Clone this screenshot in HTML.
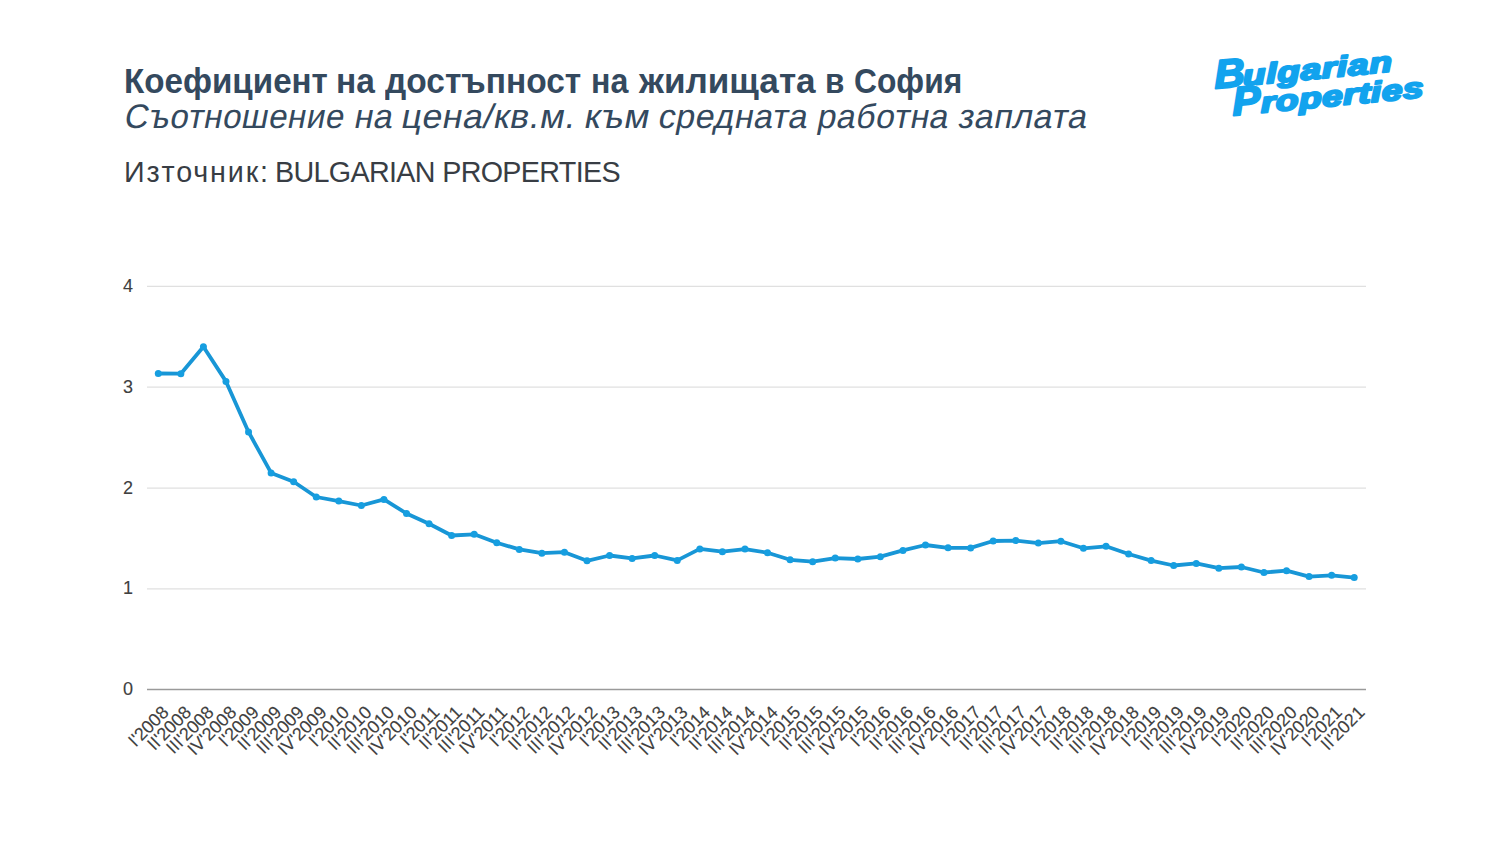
<!DOCTYPE html>
<html><head><meta charset="utf-8">
<style>
html,body{margin:0;padding:0;background:#fff;}
body{width:1500px;height:844px;position:relative;overflow:hidden;font-family:"Liberation Sans",sans-serif;}
.t{position:absolute;left:124px;white-space:nowrap;color:#34495e;}
.w1{position:absolute;top:62.5px;font-size:33.5px;font-weight:bold;white-space:nowrap;color:#34495e;transform-origin:0 30.3px;}
.w2{position:absolute;top:97px;font-size:34px;letter-spacing:0.55px;white-space:nowrap;color:#34495e;transform-origin:0 80%;}
#t3{top:155px;font-size:28.7px;color:#383d44;transform:scaleY(1.05);transform-origin:0 0;}
svg{position:absolute;left:0;top:0;}
.yl{font-size:18px;fill:#404040;stroke:#404040;stroke-width:0.12px;}
.xl{font-size:18px;fill:#404040;stroke:#404040;stroke-width:0.12px;}

</style></head><body>
<span class="w1" style="left:124.02px;transform:scaleY(1.06) scaleX(0.9901)">Коефициент</span><span class="w1" style="left:336.00px;transform:scaleY(1.06) scaleX(1.0000)">на</span><span class="w1" style="left:385.00px;transform:scaleY(1.06) scaleX(1.0000)">достъпност</span><span class="w1" style="left:590.58px;transform:scaleY(1.06) scaleX(0.9595)">на</span><span class="w1" style="left:639.00px;transform:scaleY(1.06) scaleX(1.0476)">жилищата</span><span class="w1" style="left:825.12px;transform:scaleY(1.06) scaleX(0.9412)">в</span><span class="w1" style="left:853.55px;transform:scaleY(1.06) scaleX(0.9482)">София</span>
<span class="w2" style="left:123.08px;transform:skewX(-11deg) scaleX(0.9731)">Съотношение</span><span class="w2" style="left:353.00px;transform:skewX(-11deg) scaleX(1.0000)">на</span><span class="w2" style="left:399.90px;transform:skewX(-11deg) scaleX(1.0500)">цена/кв.м.</span><span class="w2" style="left:583.36px;transform:skewX(-11deg) scaleX(1.0678)">към</span><span class="w2" style="left:657.00px;transform:skewX(-11deg) scaleX(1.0000)">средната</span><span class="w2" style="left:816.31px;transform:skewX(-11deg) scaleX(0.9901)">работна</span><span class="w2" style="left:957.00px;transform:skewX(-11deg) scaleX(1.0000)">заплата</span>
<div class="t" id="t3"><span style="letter-spacing:1.85px">Източник:</span><span style="position:absolute;left:151px;top:0;letter-spacing:-0.66px">BULGARIAN PROPERTIES</span></div>
<svg width="1500" height="844" viewBox="0 0 1500 844" style="font-family:'Liberation Sans',sans-serif">
<line x1="147.0" y1="286.3" x2="1366" y2="286.3" stroke="#e0e0e0" stroke-width="1.3"/>
<text x="133" y="291.8" text-anchor="end" class="yl">4</text>
<line x1="147.0" y1="387.2" x2="1366" y2="387.2" stroke="#e0e0e0" stroke-width="1.3"/>
<text x="133" y="392.7" text-anchor="end" class="yl">3</text>
<line x1="147.0" y1="488.2" x2="1366" y2="488.2" stroke="#e0e0e0" stroke-width="1.3"/>
<text x="133" y="493.7" text-anchor="end" class="yl">2</text>
<line x1="147.0" y1="588.8" x2="1366" y2="588.8" stroke="#e0e0e0" stroke-width="1.3"/>
<text x="133" y="594.3" text-anchor="end" class="yl">1</text>
<line x1="147.0" y1="689.5" x2="1366" y2="689.5" stroke="#9a9a9a" stroke-width="1.3"/>
<text x="133" y="695.0" text-anchor="end" class="yl">0</text>
<polyline points="158.28,373.50 180.85,373.70 203.41,346.70 225.98,381.40 248.54,431.90 271.11,472.90 293.67,481.70 316.24,497.00 338.80,501.10 361.37,505.50 383.93,499.40 406.50,513.50 429.06,523.70 451.62,535.50 474.19,534.30 496.75,542.80 519.32,549.40 541.88,553.20 564.45,552.20 587.01,560.80 609.58,555.50 632.14,558.40 654.71,555.50 677.27,560.40 699.84,548.90 722.40,551.70 744.97,549.10 767.53,552.70 790.10,559.80 812.66,561.70 835.23,558.10 857.79,559.00 880.36,556.70 902.92,550.40 925.49,545.00 948.05,547.80 970.62,547.90 993.18,541.00 1015.75,540.60 1038.31,543.10 1060.88,541.20 1083.44,548.30 1106.00,546.30 1128.57,554.00 1151.13,560.60 1173.70,565.50 1196.26,563.40 1218.83,568.20 1241.39,567.00 1263.96,572.50 1286.52,570.70 1309.09,576.60 1331.65,575.30 1354.22,577.60" fill="none" stroke="#1896d6" stroke-width="3.8" stroke-linejoin="round"/>
<circle cx="158.28" cy="373.50" r="3.5" fill="#169ee0"/>
<circle cx="180.85" cy="373.70" r="3.5" fill="#169ee0"/>
<circle cx="203.41" cy="346.70" r="3.5" fill="#169ee0"/>
<circle cx="225.98" cy="381.40" r="3.5" fill="#169ee0"/>
<circle cx="248.54" cy="431.90" r="3.5" fill="#169ee0"/>
<circle cx="271.11" cy="472.90" r="3.5" fill="#169ee0"/>
<circle cx="293.67" cy="481.70" r="3.5" fill="#169ee0"/>
<circle cx="316.24" cy="497.00" r="3.5" fill="#169ee0"/>
<circle cx="338.80" cy="501.10" r="3.5" fill="#169ee0"/>
<circle cx="361.37" cy="505.50" r="3.5" fill="#169ee0"/>
<circle cx="383.93" cy="499.40" r="3.5" fill="#169ee0"/>
<circle cx="406.50" cy="513.50" r="3.5" fill="#169ee0"/>
<circle cx="429.06" cy="523.70" r="3.5" fill="#169ee0"/>
<circle cx="451.62" cy="535.50" r="3.5" fill="#169ee0"/>
<circle cx="474.19" cy="534.30" r="3.5" fill="#169ee0"/>
<circle cx="496.75" cy="542.80" r="3.5" fill="#169ee0"/>
<circle cx="519.32" cy="549.40" r="3.5" fill="#169ee0"/>
<circle cx="541.88" cy="553.20" r="3.5" fill="#169ee0"/>
<circle cx="564.45" cy="552.20" r="3.5" fill="#169ee0"/>
<circle cx="587.01" cy="560.80" r="3.5" fill="#169ee0"/>
<circle cx="609.58" cy="555.50" r="3.5" fill="#169ee0"/>
<circle cx="632.14" cy="558.40" r="3.5" fill="#169ee0"/>
<circle cx="654.71" cy="555.50" r="3.5" fill="#169ee0"/>
<circle cx="677.27" cy="560.40" r="3.5" fill="#169ee0"/>
<circle cx="699.84" cy="548.90" r="3.5" fill="#169ee0"/>
<circle cx="722.40" cy="551.70" r="3.5" fill="#169ee0"/>
<circle cx="744.97" cy="549.10" r="3.5" fill="#169ee0"/>
<circle cx="767.53" cy="552.70" r="3.5" fill="#169ee0"/>
<circle cx="790.10" cy="559.80" r="3.5" fill="#169ee0"/>
<circle cx="812.66" cy="561.70" r="3.5" fill="#169ee0"/>
<circle cx="835.23" cy="558.10" r="3.5" fill="#169ee0"/>
<circle cx="857.79" cy="559.00" r="3.5" fill="#169ee0"/>
<circle cx="880.36" cy="556.70" r="3.5" fill="#169ee0"/>
<circle cx="902.92" cy="550.40" r="3.5" fill="#169ee0"/>
<circle cx="925.49" cy="545.00" r="3.5" fill="#169ee0"/>
<circle cx="948.05" cy="547.80" r="3.5" fill="#169ee0"/>
<circle cx="970.62" cy="547.90" r="3.5" fill="#169ee0"/>
<circle cx="993.18" cy="541.00" r="3.5" fill="#169ee0"/>
<circle cx="1015.75" cy="540.60" r="3.5" fill="#169ee0"/>
<circle cx="1038.31" cy="543.10" r="3.5" fill="#169ee0"/>
<circle cx="1060.88" cy="541.20" r="3.5" fill="#169ee0"/>
<circle cx="1083.44" cy="548.30" r="3.5" fill="#169ee0"/>
<circle cx="1106.00" cy="546.30" r="3.5" fill="#169ee0"/>
<circle cx="1128.57" cy="554.00" r="3.5" fill="#169ee0"/>
<circle cx="1151.13" cy="560.60" r="3.5" fill="#169ee0"/>
<circle cx="1173.70" cy="565.50" r="3.5" fill="#169ee0"/>
<circle cx="1196.26" cy="563.40" r="3.5" fill="#169ee0"/>
<circle cx="1218.83" cy="568.20" r="3.5" fill="#169ee0"/>
<circle cx="1241.39" cy="567.00" r="3.5" fill="#169ee0"/>
<circle cx="1263.96" cy="572.50" r="3.5" fill="#169ee0"/>
<circle cx="1286.52" cy="570.70" r="3.5" fill="#169ee0"/>
<circle cx="1309.09" cy="576.60" r="3.5" fill="#169ee0"/>
<circle cx="1331.65" cy="575.30" r="3.5" fill="#169ee0"/>
<circle cx="1354.22" cy="577.60" r="3.5" fill="#169ee0"/>
<text x="169.78" y="713.50" text-anchor="end" transform="rotate(-45 169.78 713.50)" class="xl">I'2008</text>
<text x="192.35" y="713.50" text-anchor="end" transform="rotate(-45 192.35 713.50)" class="xl">II'2008</text>
<text x="214.91" y="713.50" text-anchor="end" transform="rotate(-45 214.91 713.50)" class="xl">III'2008</text>
<text x="237.48" y="713.50" text-anchor="end" transform="rotate(-45 237.48 713.50)" class="xl">IV'2008</text>
<text x="260.04" y="713.50" text-anchor="end" transform="rotate(-45 260.04 713.50)" class="xl">I'2009</text>
<text x="282.61" y="713.50" text-anchor="end" transform="rotate(-45 282.61 713.50)" class="xl">II'2009</text>
<text x="305.17" y="713.50" text-anchor="end" transform="rotate(-45 305.17 713.50)" class="xl">III'2009</text>
<text x="327.74" y="713.50" text-anchor="end" transform="rotate(-45 327.74 713.50)" class="xl">IV'2009</text>
<text x="350.30" y="713.50" text-anchor="end" transform="rotate(-45 350.30 713.50)" class="xl">I'2010</text>
<text x="372.87" y="713.50" text-anchor="end" transform="rotate(-45 372.87 713.50)" class="xl">II'2010</text>
<text x="395.43" y="713.50" text-anchor="end" transform="rotate(-45 395.43 713.50)" class="xl">III'2010</text>
<text x="418.00" y="713.50" text-anchor="end" transform="rotate(-45 418.00 713.50)" class="xl">IV'2010</text>
<text x="440.56" y="713.50" text-anchor="end" transform="rotate(-45 440.56 713.50)" class="xl">I'2011</text>
<text x="463.12" y="713.50" text-anchor="end" transform="rotate(-45 463.12 713.50)" class="xl">II'2011</text>
<text x="485.69" y="713.50" text-anchor="end" transform="rotate(-45 485.69 713.50)" class="xl">III'2011</text>
<text x="508.25" y="713.50" text-anchor="end" transform="rotate(-45 508.25 713.50)" class="xl">IV'2011</text>
<text x="530.82" y="713.50" text-anchor="end" transform="rotate(-45 530.82 713.50)" class="xl">I'2012</text>
<text x="553.38" y="713.50" text-anchor="end" transform="rotate(-45 553.38 713.50)" class="xl">II'2012</text>
<text x="575.95" y="713.50" text-anchor="end" transform="rotate(-45 575.95 713.50)" class="xl">III'2012</text>
<text x="598.51" y="713.50" text-anchor="end" transform="rotate(-45 598.51 713.50)" class="xl">IV'2012</text>
<text x="621.08" y="713.50" text-anchor="end" transform="rotate(-45 621.08 713.50)" class="xl">I'2013</text>
<text x="643.64" y="713.50" text-anchor="end" transform="rotate(-45 643.64 713.50)" class="xl">II'2013</text>
<text x="666.21" y="713.50" text-anchor="end" transform="rotate(-45 666.21 713.50)" class="xl">III'2013</text>
<text x="688.77" y="713.50" text-anchor="end" transform="rotate(-45 688.77 713.50)" class="xl">IV'2013</text>
<text x="711.34" y="713.50" text-anchor="end" transform="rotate(-45 711.34 713.50)" class="xl">I'2014</text>
<text x="733.90" y="713.50" text-anchor="end" transform="rotate(-45 733.90 713.50)" class="xl">II'2014</text>
<text x="756.47" y="713.50" text-anchor="end" transform="rotate(-45 756.47 713.50)" class="xl">III'2014</text>
<text x="779.03" y="713.50" text-anchor="end" transform="rotate(-45 779.03 713.50)" class="xl">IV'2014</text>
<text x="801.60" y="713.50" text-anchor="end" transform="rotate(-45 801.60 713.50)" class="xl">I'2015</text>
<text x="824.16" y="713.50" text-anchor="end" transform="rotate(-45 824.16 713.50)" class="xl">II'2015</text>
<text x="846.73" y="713.50" text-anchor="end" transform="rotate(-45 846.73 713.50)" class="xl">III'2015</text>
<text x="869.29" y="713.50" text-anchor="end" transform="rotate(-45 869.29 713.50)" class="xl">IV'2015</text>
<text x="891.86" y="713.50" text-anchor="end" transform="rotate(-45 891.86 713.50)" class="xl">I'2016</text>
<text x="914.42" y="713.50" text-anchor="end" transform="rotate(-45 914.42 713.50)" class="xl">II'2016</text>
<text x="936.99" y="713.50" text-anchor="end" transform="rotate(-45 936.99 713.50)" class="xl">III'2016</text>
<text x="959.55" y="713.50" text-anchor="end" transform="rotate(-45 959.55 713.50)" class="xl">IV'2016</text>
<text x="982.12" y="713.50" text-anchor="end" transform="rotate(-45 982.12 713.50)" class="xl">I'2017</text>
<text x="1004.68" y="713.50" text-anchor="end" transform="rotate(-45 1004.68 713.50)" class="xl">II'2017</text>
<text x="1027.25" y="713.50" text-anchor="end" transform="rotate(-45 1027.25 713.50)" class="xl">III'2017</text>
<text x="1049.81" y="713.50" text-anchor="end" transform="rotate(-45 1049.81 713.50)" class="xl">IV'2017</text>
<text x="1072.38" y="713.50" text-anchor="end" transform="rotate(-45 1072.38 713.50)" class="xl">I'2018</text>
<text x="1094.94" y="713.50" text-anchor="end" transform="rotate(-45 1094.94 713.50)" class="xl">II'2018</text>
<text x="1117.50" y="713.50" text-anchor="end" transform="rotate(-45 1117.50 713.50)" class="xl">III'2018</text>
<text x="1140.07" y="713.50" text-anchor="end" transform="rotate(-45 1140.07 713.50)" class="xl">IV'2018</text>
<text x="1162.63" y="713.50" text-anchor="end" transform="rotate(-45 1162.63 713.50)" class="xl">I'2019</text>
<text x="1185.20" y="713.50" text-anchor="end" transform="rotate(-45 1185.20 713.50)" class="xl">II'2019</text>
<text x="1207.76" y="713.50" text-anchor="end" transform="rotate(-45 1207.76 713.50)" class="xl">III'2019</text>
<text x="1230.33" y="713.50" text-anchor="end" transform="rotate(-45 1230.33 713.50)" class="xl">IV'2019</text>
<text x="1252.89" y="713.50" text-anchor="end" transform="rotate(-45 1252.89 713.50)" class="xl">I'2020</text>
<text x="1275.46" y="713.50" text-anchor="end" transform="rotate(-45 1275.46 713.50)" class="xl">II'2020</text>
<text x="1298.02" y="713.50" text-anchor="end" transform="rotate(-45 1298.02 713.50)" class="xl">III'2020</text>
<text x="1320.59" y="713.50" text-anchor="end" transform="rotate(-45 1320.59 713.50)" class="xl">IV'2020</text>
<text x="1343.15" y="713.50" text-anchor="end" transform="rotate(-45 1343.15 713.50)" class="xl">I'2021</text>
<text x="1365.72" y="713.50" text-anchor="end" transform="rotate(-45 1365.72 713.50)" class="xl">II'2021</text>
</svg>
<svg id="logo" width="1500" height="844" viewBox="0 0 1500 844" style="position:absolute;left:0;top:0">
<g fill="#12a3ee" stroke="#12a3ee" stroke-width="2.2" stroke-linejoin="round" font-family="Liberation Sans" font-weight="bold" font-style="italic">
<g transform="translate(1215,88.5) rotate(-5.5) skewX(-3)">
<text transform="scale(1.05,1)" font-size="40">B</text>
<text transform="translate(28.5,0) scale(1.3,1)" font-size="28.5" letter-spacing="0.6">ulgarian</text>
</g>
<g transform="translate(1233,115.5) rotate(-5.5) skewX(-3)">
<text transform="scale(1.05,1)" font-size="40">P</text>
<text transform="translate(28.5,0) scale(1.3,1)" font-size="28.5" letter-spacing="0.45">roperties</text>
</g>
</g>
</svg>
</body></html>
